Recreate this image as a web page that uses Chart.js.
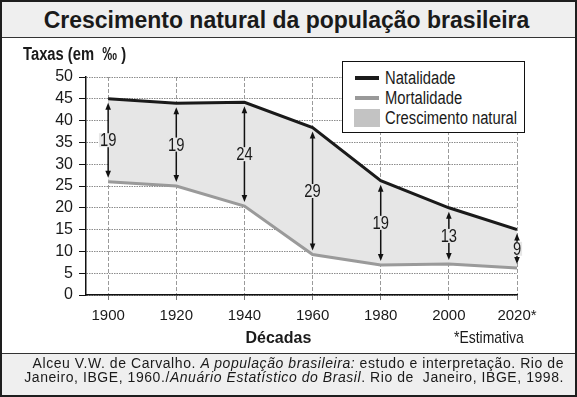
<!DOCTYPE html>
<html lang="pt-BR">
<head>
<meta charset="utf-8">
<script src="https://cdn.jsdelivr.net/npm/chart.js@4"></script>
<style>
  html, body { margin: 0; padding: 0; background: #fff; }
  #frame { position: relative; width: 577px; height: 397px; box-sizing: border-box; border: 2px solid #1e1e1e; overflow: hidden; font-family: "Liberation Sans", Arial, sans-serif; color: #1a1a1a; }
  .band { position: absolute; left: 0; right: 0; background: #efefef; }
  #titleBand { top: 0; height: 35px; border-bottom: 1px solid #333; }
  #footBand { top: 351px; bottom: 0; border-top: 1px solid #333; }
  #title { position: absolute; left: 0; right: 4px; top: 1px; line-height: 35px; text-align: center; font-weight: bold; font-size: 23px; }
  #chartBox { position: absolute; left: -2px; top: -2px; width: 577px; height: 397px; }
  .abs { position: absolute; white-space: nowrap; }
  .cond { transform: scaleX(0.82); transform-origin: 0 50%; }
  #yTitle { left: 20.5px; top: 41.5px; line-height: 20px; font-size: 18px; font-weight: bold; }
  #xTitle { left: 243.5px; top: 326px; line-height: 20px; font-size: 16px; font-weight: bold; }
  #note { left: 451.5px; top: 326px; line-height: 20px; font-size: 17px; }
  #legend { position: absolute; left: 340px; top: 59px; width: 183px; height: 72px; box-sizing: border-box; border: 1.5px solid #111; background: #fff; }
  #legend .sw { position: absolute; }
  #legend .lt { position: absolute; left: 42px; line-height: 20px; font-size: 18px; white-space: nowrap; }
  #source { position: absolute; right: 11px; top: 354px; line-height: 14px; font-size: 14px; letter-spacing: 0.56px; text-align: right; white-space: nowrap; }
</style>
</head>
<body>
<div id="frame">
  <div class="band" id="titleBand"></div>
  <div class="band" id="footBand"></div>
  <div id="title">Crescimento natural da população brasileira</div>
  <div id="chartBox"><canvas id="chart" width="577" height="397"></canvas></div>
  <div class="abs cond" id="yTitle">Taxas (em&nbsp; ‰ )</div>
  <div class="abs" id="xTitle">Décadas</div>
  <div class="abs cond" id="note">*Estimativa</div>
  <div id="legend">
    <div class="sw" style="left:12px;top:13.5px;width:24px;height:4px;background:#1a1a1a"></div>
    <div class="lt cond" style="top:5.5px">Natalidade</div>
    <div class="sw" style="left:12px;top:33.5px;width:24px;height:4px;background:#999"></div>
    <div class="lt cond" style="top:25.5px">Mortalidade</div>
    <div class="sw" style="left:11px;top:47px;width:26px;height:18px;background:#c3c3c3"></div>
    <div class="lt cond" style="top:46px">Crescimento natural</div>
  </div>
  <div id="source">Alceu V.W. de Carvalho. <i>A população brasileira:</i> estudo e interpretação. Rio de<br>Janeiro, IBGE, 1960./<i>Anuário Estatístico do Brasil</i>. Rio de&nbsp; Janeiro, IBGE, 1998.</div>
</div>

<script>
// ===== Data =====
const decades = [1900, 1920, 1940, 1960, 1980, 2000, 2020];
const decadeLabels = ['1900', '1920', '1940', '1960', '1980', '2000', '2020*'];
const natalidade = [45, 44, 44.2, 38.4, 26.2, 20, 15];
const mortalidade = [26, 25, 20.4, 9.3, 6.9, 7.1, 6.2];
const crescimento = [19, 19, 24, 29, 19, 13, 9];
const yTicks = [0, 5, 10, 15, 20, 25, 30, 35, 40, 45, 50];

const FONT = '"Liberation Sans", Arial, sans-serif';
const FILL = '#e6e6e6';

// ===== Arrows with the growth value between the two curves =====
const arrowPlugin = {
  id: 'arrows',
  afterDatasetsDraw(chart) {
    const { ctx, scales: { x, y } } = chart;
    ctx.save();
    ctx.strokeStyle = '#111';
    ctx.lineWidth = 1.5;
    decades.forEach((d, i) => {
      const px = x.getPixelForValue(d);
      const top = y.getPixelForValue(natalidade[i]) + 4;
      const bot = y.getPixelForValue(mortalidade[i]) - 4;
      ctx.fillStyle = '#111';
      ctx.beginPath();
      ctx.moveTo(px, top + 5);
      ctx.lineTo(px, bot - 5);
      ctx.stroke();
      // heads
      ctx.beginPath();
      ctx.moveTo(px, top); ctx.lineTo(px - 2.8, top + 7); ctx.lineTo(px + 2.8, top + 7); ctx.closePath();
      ctx.fill();
      ctx.beginPath();
      ctx.moveTo(px, bot); ctx.lineTo(px - 2.8, bot - 7); ctx.lineTo(px + 2.8, bot - 7); ctx.closePath();
      ctx.fill();
      // label (condensed like the original)
      const mid = y.getPixelForValue((natalidade[i] + mortalidade[i]) / 2);
      ctx.font = '18px ' + FONT;
      const txt = String(crescimento[i]);
      const w = ctx.measureText(txt).width * 0.82;
      ctx.fillStyle = FILL;
      ctx.fillRect(px - w / 2 - 1, mid - 7, w + 2, 14);
      ctx.fillStyle = '#1a1a1a';
      ctx.textAlign = 'center';
      ctx.textBaseline = 'middle';
      ctx.fillText(txt, px, mid + 1, w);
    });
    ctx.restore();
  }
};

new Chart(document.getElementById('chart'), {
  type: 'line',
  data: {
    datasets: [
      {
        label: 'Natalidade',
        data: decades.map((d, i) => ({ x: d, y: natalidade[i] })),
        borderColor: '#1a1a1a',
        borderWidth: 3,
        pointRadius: 0,
        tension: 0,
        fill: { target: '+1' },
        backgroundColor: FILL
      },
      {
        label: 'Mortalidade',
        data: decades.map((d, i) => ({ x: d, y: mortalidade[i] })),
        borderColor: '#9a9a9a',
        borderWidth: 3,
        pointRadius: 0,
        tension: 0,
        fill: false
      }
    ]
  },
  options: {
    responsive: false,
    animation: false,
    events: [],
    layout: { padding: { left: 0, top: 77, right: 60, bottom: 72 } },
    plugins: {
      legend: { display: false },
      tooltip: { enabled: false },
      filler: { drawTime: 'beforeDatasetsDraw' }
    },
    scales: {
      x: {
        type: 'linear',
        min: 1893.5,
        max: 2020,
        afterBuildTicks: (s) => { s.ticks = decades.map(v => ({ value: v })); },
        afterFit: (s) => { s.height = 30; },
        ticks: {
          callback: (v) => decadeLabels[decades.indexOf(v)],
          color: '#1a1a1a',
          font: { family: FONT, size: 15 },
          padding: 7,
          maxRotation: 0,
          autoSkip: false
        },
        grid: { color: '#9a9a9a', lineWidth: 1, tickLength: 5, tickColor: '#777' },
        border: { color: '#111', width: 1.5, dash: [4, 2] }
      },
      y: {
        min: 0,
        max: 50,
        afterBuildTicks: (s) => { s.ticks = yTicks.map(v => ({ value: v })); },
        afterFit: (s) => { s.width = 86; },
        ticks: {
          color: '#1a1a1a',
          font: { family: FONT, size: 16 },
          padding: 6,
          autoSkip: false
        },
        grid: { color: '#8c8c8c', lineWidth: 1, tickLength: 7, tickColor: '#111' },
        border: { color: '#111', width: 1.5, dash: [1.5, 1] }
      }
    }
  },
  plugins: [arrowPlugin]
});
</script>
</body>
</html>
